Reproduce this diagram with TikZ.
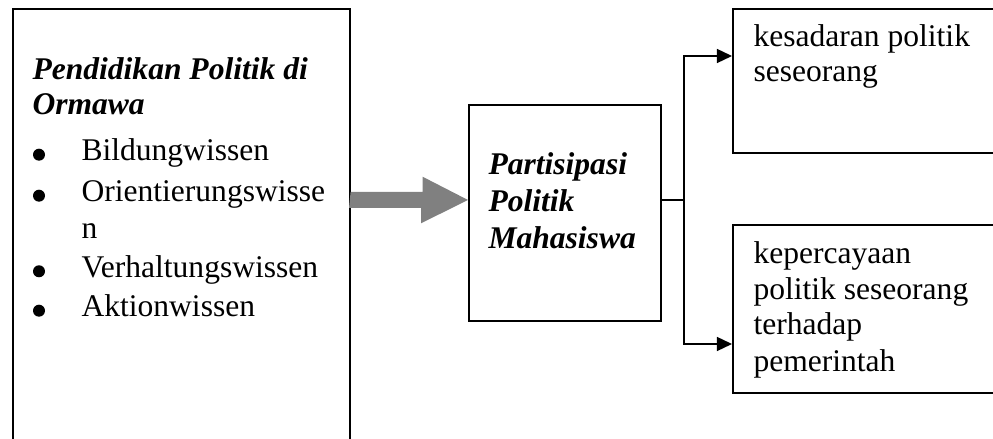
\documentclass[tikz,border=0pt]{standalone}
\usepackage{fontspec}
\setmainfont{Liberation Serif}
\usetikzlibrary{arrows.meta,calc}

\newdimen\px
\px=0.3788bp

\tikzset{
    kotak/.style={draw, line width=0.6pt, inner sep=0pt, anchor=north west},
    teks/.style={anchor=base west, inner sep=0pt, font=\fontsize{12}{14}\selectfont},
    judul/.style={teks, font=\fontsize{12}{14}\selectfont\bfseries\itshape},
    titik/.style={circle, fill, inner sep=0pt, minimum size=12\px},
    garis/.style={line width=0.6pt},
    panah/.style={garis, -{Triangle[length=5.7bp, width=5.3bp]}}
}

\begin{document}
\begin{tikzpicture}[x=0.3788bp, y=-0.3788bp]
            \useasboundingbox (0,0) rectangle (993,439);
            \clip (0,0) rectangle (993,439);

            \node[kotak, minimum width=337\px, minimum height=470\px] (ormawa) at (12,8) {};
            \node[kotak, minimum width=192\px, minimum height=216\px] (partisipasi) at (468,104) {};
            \node[kotak, minimum width=300\px, minimum height=144\px] (kesadaran) at (732,8) {};
            \node[kotak, minimum width=300\px, minimum height=168\px] (kepercayaan) at (732,224) {};

            \foreach \y/\t [count=\i] in {79.3/Pendidikan Politik di, 115/Ormawa}
                \node[judul] (judul-\i) at (32,\y) {\t};
            \foreach \y [count=\i] in {160.7, 201.7, 277.3, 316.7}
                \node[titik] (titik-\i) at (39,\y-6) {};
            \foreach \y/\t [count=\i] in {160.7/Bildungwissen, 201.7/Orientierungswisse, 238.3/n, 277.3/Verhaltungswissen, 316.7/Aktionwissen}
                \node[teks] (butir-\i) at (81,\y) {\t};

            \foreach \y/\t [count=\i] in {175/Partisipasi, 211.7/Politik, 248.3/Mahasiswa}
                \node[judul] (tengah-\i) at (488,\y) {\t};

            \foreach \y/\t [count=\i] in {46.7/kesadaran politik, 81.7/seseorang}
                \node[teks] (atas-\i) at (753,\y) {\t};
            \foreach \y/\t [count=\i] in {263.3/kepercayaan, 300/politik seseorang, 335/terhadap, 371.7/pemerintah}
                \node[teks] (bawah-\i) at (753,\y) {\t};

            % panah abu-abu
            \coordinate (aras) at (0,200);
            \fill[gray] ($(ormawa.east |- aras)+(0,-8)$) -- ++(72,0) -- ++(0,-15.3)
                -- (partisipasi.west |- aras) -- ++(-47,23.3) -- ++(0,-15.3) -- ++(-72,0) -- cycle;

            \coordinate (cabang) at (684,200);
            \coordinate (ujung-atas) at (0,56);
            \coordinate (ujung-bawah) at (0,344);
            \draw[garis] (partisipasi.east |- cabang) -- (cabang);
            \draw[panah] (cabang) |- (kesadaran.west |- ujung-atas);
            \draw[panah] (cabang) |- (kepercayaan.west |- ujung-bawah);
\end{tikzpicture}
\end{document}
